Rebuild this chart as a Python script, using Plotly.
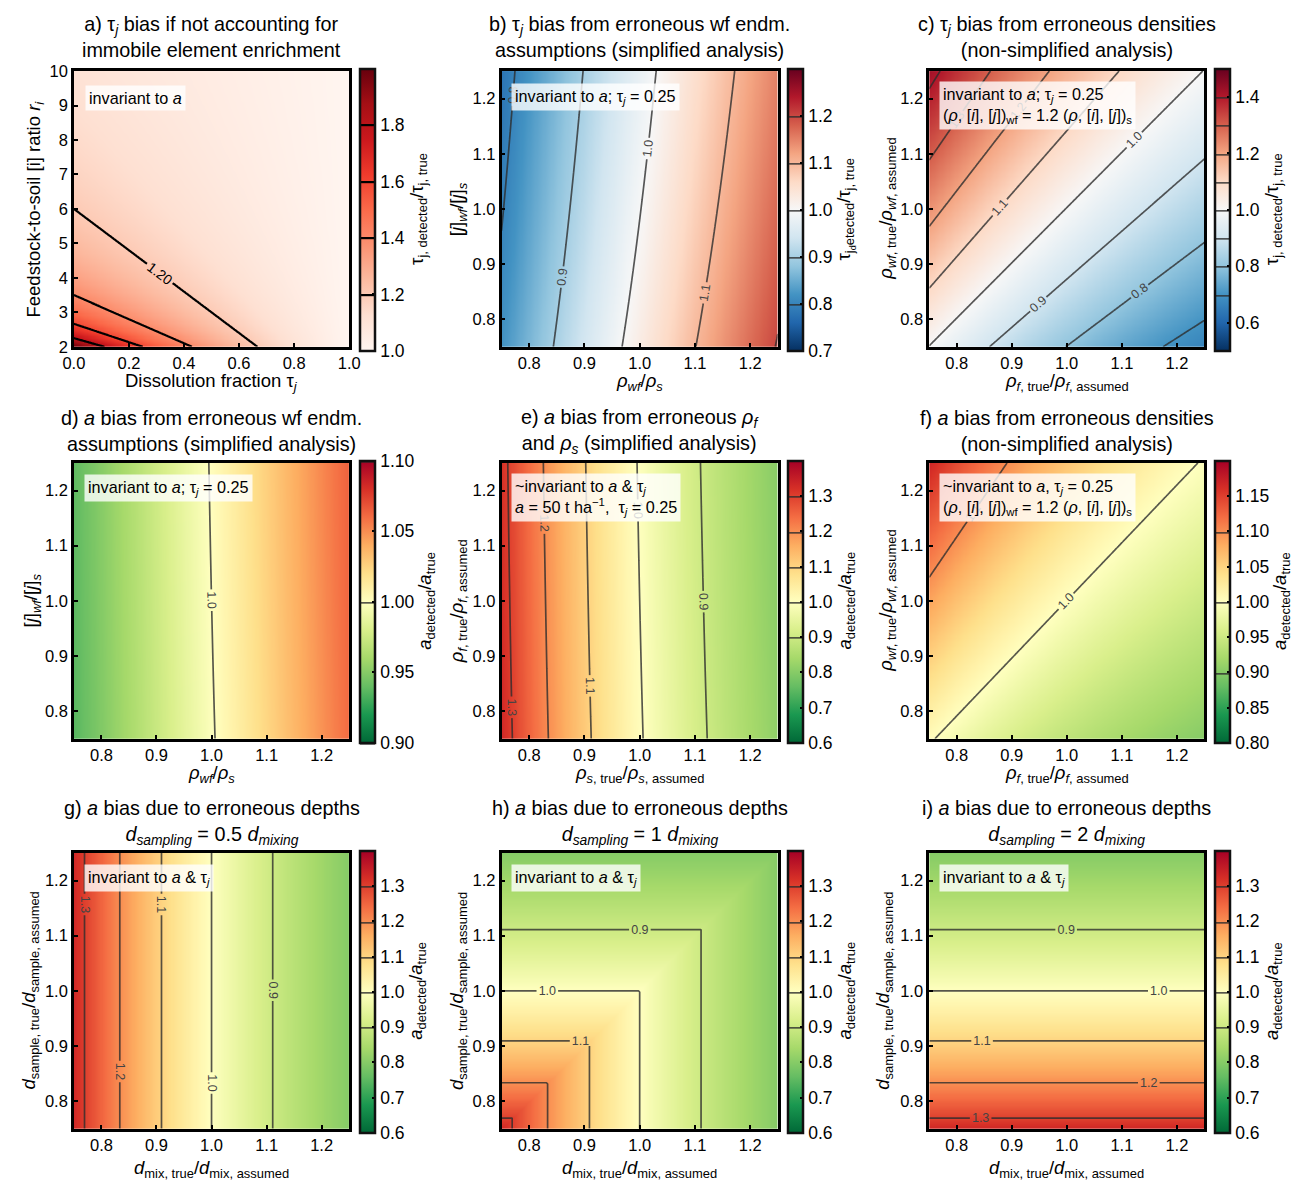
import numpy as np
import plotly.graph_objects as go
import plotly.colors as pc

W, H = 1299, 1183
FONT = "Liberation Sans, Arial, Helvetica, sans-serif"

# ---------------- data ----------------
# panel a : tau bias = r / (r - 1 + tau)
a_tau_range = [0.0, 1.0]
a_r_range = [2.0, 10.0]

ratio_range = [0.75, 1.25]

# panel b : effective ratio u = x * y**b_y_exp, bias read at contour crossings
b_y_exp = -0.121
b_u = [0.753, 0.876, 1.0, 1.141, 1.29]
b_bias = [0.8, 0.9, 1.0, 1.1, 1.2]

# panel c : v = y / x
c_v = [0.638, 0.752, 0.874, 1.0, 1.141, 1.293, 1.451]
c_bias = [0.7, 0.8, 0.9, 1.0, 1.1, 1.2, 1.3]

# panel d : u = x * y**d_y_exp
d_y_exp = 0.022
d_u = [0.75, 1.0, 1.25]
d_bias = [0.9375, 1.0, 1.0625]

# panel e : u = x * y**e_y_exp
e_y_exp = 0.0214
e_u = [0.765, 0.8296, 0.906, 1.001, 1.115]
e_bias = [1.3, 1.2, 1.1, 1.0, 0.9]

# panel f : contours are rays through a pivot point
f_pivot = (0.027, -0.018)
f_slope_ref = 1.046
f_s = [0.6, 1.0, 1.403]
f_bias = [0.9, 1.0, 1.1]

# panels g-i : d_sampling / d_mixing
depth_ratio = [0.5, 1.0, 2.0]


def profile(u, ru, rb, log=True):
    deg = min(2, len(ru) - 1)
    if log:
        p = np.polyfit(np.log(ru), np.log(rb), deg)
        return np.exp(np.polyval(p, np.log(u)))
    p = np.polyfit(ru, rb, 1)
    return np.polyval(p, u)


N = 241
xs = np.linspace(ratio_range[0], ratio_range[1], N)
X, Y = np.meshgrid(xs, xs)

ta = np.linspace(a_tau_range[0], a_tau_range[1], N)
ra = np.linspace(a_r_range[0], a_r_range[1], N)
TA, RA = np.meshgrid(ta, ra)

Z = {}
Z['a'] = RA / (RA - 1 + TA)
Z['b'] = profile(X * Y ** b_y_exp, b_u, b_bias)
Z['c'] = profile(Y / X, c_v, c_bias)
Z['d'] = profile(X * Y ** d_y_exp, d_u, d_bias)
Z['e'] = profile(X * Y ** e_y_exp, e_u, e_bias)
Z['f'] = profile((Y - f_pivot[1]) / (f_slope_ref * (X - f_pivot[0])), f_s, f_bias, log=False)
for key, r in zip(['g', 'h', 'i'], depth_ratio):
    Z[key] = max(1.0, r) / np.maximum(X, r * Y)


def scale(colors, reverse=False):
    c = list(colors)
    if reverse:
        c = c[::-1]
    n = len(c)
    return [[i / (n - 1), col] for i, col in enumerate(c)]


REDS = scale(pc.sequential.Reds)
RDBU_R = scale(pc.diverging.RdBu, reverse=True)
RDYLGN_R = scale(pc.diverging.RdYlGn, reverse=True)

# ---------------- layout geometry ----------------
cols = [(64, 344), (499, 780), (934, 1214)]
rows = [(63, 343), (461, 741), (857, 1137)]
cb_x = [355, 790, 1225]

GRAY = 'rgba(45,45,45,0.8)'

tau_t = "τ<sub><i>j</i></sub>"
rho = "<i>ρ</i>"
a_i = "<i>a</i>"

panels = [
    dict(key='a', x=ta, y=ra, cs=REDS, zr=(1.0, 2.0), lev=(1.2, 1.81, 0.2), fmt='.2f', lc='black', lw=2.2,
         cbt=[1.0, 1.2, 1.4, 1.6, 1.8], cbfmt='{:.1f}',
         title=f"a) {tau_t} bias if not accounting for<br>immobile element enrichment",
         xt=f"Dissolution fraction {tau_t}", yt="Feedstock-to-soil [i] ratio <i>r<sub>i</sub></i>",
         cbtitle="τ<sub>j, detected</sub>/τ<sub>j, true</sub>",
         note=f"invariant to {a_i}",
         xr=[0, 1], yr=[2, 10], xtv=[0, 0.2, 0.4, 0.6, 0.8, 1.0], ytv=list(range(2, 11)), xfmt='{:.1f}', yfmt='{:d}'),
    dict(key='b', cs=RDBU_R, zr=(0.7, 1.3), lev=(0.8, 1.21, 0.1), fmt='.1f', lc=GRAY, lw=1.7,
         cbt=[0.7, 0.8, 0.9, 1.0, 1.1, 1.2], cbfmt='{:.1f}',
         title=f"b) {tau_t} bias from erroneous wf endm.<br>assumptions (simplified analysis)",
         xt=f"{rho}<sub><i>wf</i></sub>/{rho}<sub><i>s</i></sub>",
         yt="[<i>j</i>]<sub><i>wf</i></sub>/[<i>j</i>]<sub><i>s</i></sub>",
         cbtitle="τ<sub>j<sub>d</sub>etected</sub>/τ<sub>j, true</sub>",
         note=f"invariant to {a_i}; {tau_t} = 0.25"),
    dict(key='c', cs=RDBU_R, zr=(0.5, 1.5), lev=(0.7, 1.41, 0.1), fmt='.1f', lc=GRAY, lw=1.7,
         cbt=[0.6, 0.8, 1.0, 1.2, 1.4], cbfmt='{:.1f}',
         title=f"c) {tau_t} bias from erroneous densities<br>(non-simplified analysis)",
         xt=f"{rho}<sub><i>f</i>, true</sub>/{rho}<sub><i>f</i>, assumed</sub>",
         yt=f"{rho}<sub><i>wf</i>, true</sub>/{rho}<sub><i>wf</i>, assumed</sub>",
         cbtitle="τ<sub>j, detected</sub>/τ<sub>j, true</sub>",
         note=f"invariant to {a_i}; {tau_t} = 0.25<br>({rho}, [<i>i</i>], [<i>j</i>])<sub>wf</sub> = 1.2 ({rho}, [<i>i</i>], [<i>j</i>])<sub>s</sub>"),
    dict(key='d', cs=RDYLGN_R, zr=(0.9, 1.1), lev=(0.9, 1.11, 0.1), fmt='.1f', lc=GRAY, lw=1.7,
         cbt=[0.90, 0.95, 1.00, 1.05, 1.10], cbfmt='{:.2f}',
         title=f"d) {a_i} bias from erroneous wf endm.<br>assumptions (simplified analysis)",
         xt=f"{rho}<sub><i>wf</i></sub>/{rho}<sub><i>s</i></sub>",
         yt="[<i>j</i>]<sub><i>wf</i></sub>/[<i>j</i>]<sub><i>s</i></sub>",
         cbtitle=f"{a_i}<sub>detected</sub>/{a_i}<sub>true</sub>",
         note=f"invariant to {a_i}; {tau_t} = 0.25"),
    dict(key='e', cs=RDYLGN_R, zr=(0.6, 1.4), lev=(0.9, 1.31, 0.1), fmt='.1f', lc=GRAY, lw=1.7,
         cbt=[0.6, 0.7, 0.8, 0.9, 1.0, 1.1, 1.2, 1.3], cbfmt='{:.1f}',
         title=f"e) {a_i} bias from erroneous <i>ρ<sub>f</sub></i><br>and <i>ρ<sub>s</sub></i> (simplified analysis)",
         xt=f"{rho}<sub><i>s</i>, true</sub>/{rho}<sub><i>s</i>, assumed</sub>",
         yt=f"{rho}<sub><i>f</i>, true</sub>/{rho}<sub><i>f</i>, assumed</sub>",
         cbtitle=f"{a_i}<sub>detected</sub>/{a_i}<sub>true</sub>",
         note=f"~invariant to {a_i} &amp; {tau_t}<br>{a_i} = 50 t ha<sup>−1</sup>,  {tau_t} = 0.25"),
    dict(key='f', cs=RDYLGN_R, zr=(0.8, 1.2), lev=(0.9, 1.11, 0.1), fmt='.1f', lc=GRAY, lw=1.7,
         cbt=[0.80, 0.85, 0.90, 0.95, 1.00, 1.05, 1.10, 1.15], cbfmt='{:.2f}',
         title=f"f) {a_i} bias from erroneous densities<br>(non-simplified analysis)",
         xt=f"{rho}<sub><i>f</i>, true</sub>/{rho}<sub><i>f</i>, assumed</sub>",
         yt=f"{rho}<sub><i>wf</i>, true</sub>/{rho}<sub><i>wf</i>, assumed</sub>",
         cbtitle=f"{a_i}<sub>detected</sub>/{a_i}<sub>true</sub>",
         note=f"~invariant to {a_i}, {tau_t} = 0.25<br>({rho}, [<i>i</i>], [<i>j</i>])<sub>wf</sub> = 1.2 ({rho}, [<i>i</i>], [<i>j</i>])<sub>s</sub>"),
]
for key, r in zip(['g', 'h', 'i'], depth_ratio):
    rtxt = ('%g' % r)
    panels.append(dict(key=key, cs=RDYLGN_R, zr=(0.6, 1.4), lev=(0.9, 1.31, 0.1), fmt='.1f', lc=GRAY, lw=1.7,
                       cbt=[0.6, 0.7, 0.8, 0.9, 1.0, 1.1, 1.2, 1.3], cbfmt='{:.1f}',
                       title=f"{key}) {a_i} bias due to erroneous depths<br><i>d<sub>sampling</sub></i> = {rtxt} <i>d<sub>mixing</sub></i>",
                       xt="<i>d</i><sub>mix, true</sub>/<i>d</i><sub>mix, assumed</sub>",
                       yt="<i>d</i><sub>sample, true</sub>/<i>d</i><sub>sample, assumed</sub>",
                       cbtitle=f"{a_i}<sub>detected</sub>/{a_i}<sub>true</sub>",
                       note=f"invariant to {a_i} &amp; {tau_t}"))

title_y = [28, 429, 826]
xtitle_y = [379, 777, 1178]
ytitle_x = [[24, 455, 891], [21, 455, 891], [19, 455, 888]]
cbtitle_x = [[414, 849, 1284], [422, 849, 1292], [413, 849, 1284]]
note_pos = [[(75, 77), (509, 75), (944, 73)],
            [(74, 472), (509, 471), (944, 471)],
            [(74, 868), (509, 868), (944, 868)]]

F_TITLE, F_AXT, F_TICK, F_CBT, F_NOTE = 19.8, 18.5, 16.5, 17.5, 16.2

fig = go.Figure()
annotations = []


def px(xp):
    return xp / W


def py(yp):
    return 1 - yp / H


for idx, p in enumerate(panels):
    r_i, c_i = divmod(idx, 3)
    n = idx + 1
    xa = 'x' if n == 1 else f'x{n}'
    ya = 'y' if n == 1 else f'y{n}'
    (l, rgt), (t, b) = cols[c_i], rows[r_i]
    xv = p.get('x', xs)
    yv = p.get('y', xs)
    cb_len = b - t + 2
    is_a = p['lc'] == 'black'
    fig.add_trace(go.Contour(
        x=xv, y=yv, z=Z[p['key']], xaxis=xa, yaxis=ya,
        colorscale=p['cs'], zmin=p['zr'][0], zmax=p['zr'][1], zauto=False,
        autocontour=False,
        contours=dict(start=p['lev'][0], end=p['lev'][1], size=p['lev'][2], coloring='heatmap',
                      showlabels=True, labelformat=p['fmt'],
                      labelfont=dict(size=(14 if is_a else 12.5), color=('black' if is_a else '#444'), family=FONT)),
        line=dict(color=p['lc'], width=p['lw'], smoothing=0),
        hoverinfo='skip',
        colorbar=dict(x=px(cb_x[c_i]), xanchor='left', y=py((t + b) / 2 + 1), yanchor='middle',
                      len=cb_len, lenmode='pixels', thickness=15, thicknessmode='pixels',
                      xpad=0, ypad=0,
                      outlinewidth=2.5, outlinecolor='#111',
                      ticks='inside', ticklen=4, tickwidth=2, tickcolor='black',
                      tickvals=p['cbt'], ticktext=[p['cbfmt'].format(v) for v in p['cbt']],
                      tickfont=dict(size=F_CBT, color='black', family=FONT))))

    xtv = p.get('xtv', [0.8, 0.9, 1.0, 1.1, 1.2])
    ytv = p.get('ytv', [0.8, 0.9, 1.0, 1.1, 1.2])
    xfmt = p.get('xfmt', '{:.1f}')
    yfmt = p.get('yfmt', '{:.1f}')
    common = dict(showline=True, linecolor='black', linewidth=2.5, mirror=True,
                  ticks='inside', ticklen=4, tickwidth=2, tickcolor='black',
                  showgrid=False, zeroline=False,
                  tickfont=dict(size=F_TICK, color='black', family=FONT))
    fig.layout[('xaxis' if n == 1 else f'xaxis{n}')] = dict(
        domain=[px(l), px(rgt)], anchor=ya, range=p.get('xr', ratio_range),
        tickvals=xtv, ticktext=[xfmt.format(v) for v in xtv], **common)
    fig.layout[('yaxis' if n == 1 else f'yaxis{n}')] = dict(
        domain=[py(b), py(t)], anchor=xa, range=p.get('yr', ratio_range),
        tickvals=ytv, ticktext=[yfmt.format(v) for v in ytv], **common)

    cx = (l + rgt) / 2
    annotations.append(dict(text=p['title'], x=px(cx), y=py(title_y[r_i]), xref='paper', yref='paper',
                            xanchor='center', yanchor='middle', showarrow=False,
                            font=dict(size=F_TITLE, color='black', family=FONT)))
    annotations.append(dict(text=p['xt'], x=px(cx), y=py(xtitle_y[r_i]), xref='paper', yref='paper',
                            xanchor='center', yanchor='middle', showarrow=False,
                            font=dict(size=F_AXT, color='black', family=FONT)))
    annotations.append(dict(text=p['yt'], x=px(ytitle_x[r_i][c_i]), y=py((t + b) / 2), xref='paper', yref='paper',
                            xanchor='center', yanchor='middle', showarrow=False, textangle=-90,
                            font=dict(size=F_AXT, color='black', family=FONT)))
    annotations.append(dict(text=p['cbtitle'], x=px(cbtitle_x[r_i][c_i]), y=py((t + b) / 2), xref='paper',
                            yref='paper', xanchor='center', yanchor='middle', showarrow=False, textangle=-90,
                            font=dict(size=F_AXT, color='black', family=FONT)))
    nx, ny = note_pos[r_i][c_i]
    annotations.append(dict(text=p['note'], x=px(nx), y=py(ny), xref='paper', yref='paper',
                            xanchor='left', yanchor='top', align='left', showarrow=False,
                            bgcolor='rgba(255,255,255,0.8)', borderpad=3,
                            font=dict(size=F_NOTE, color='black', family=FONT)))

fig.update_layout(width=W, height=H, margin=dict(l=0, r=0, t=0, b=0),
                  paper_bgcolor='white', plot_bgcolor='white', showlegend=False,
                  annotations=annotations, font=dict(family=FONT, color='black'))

fig.write_html("out.html")
